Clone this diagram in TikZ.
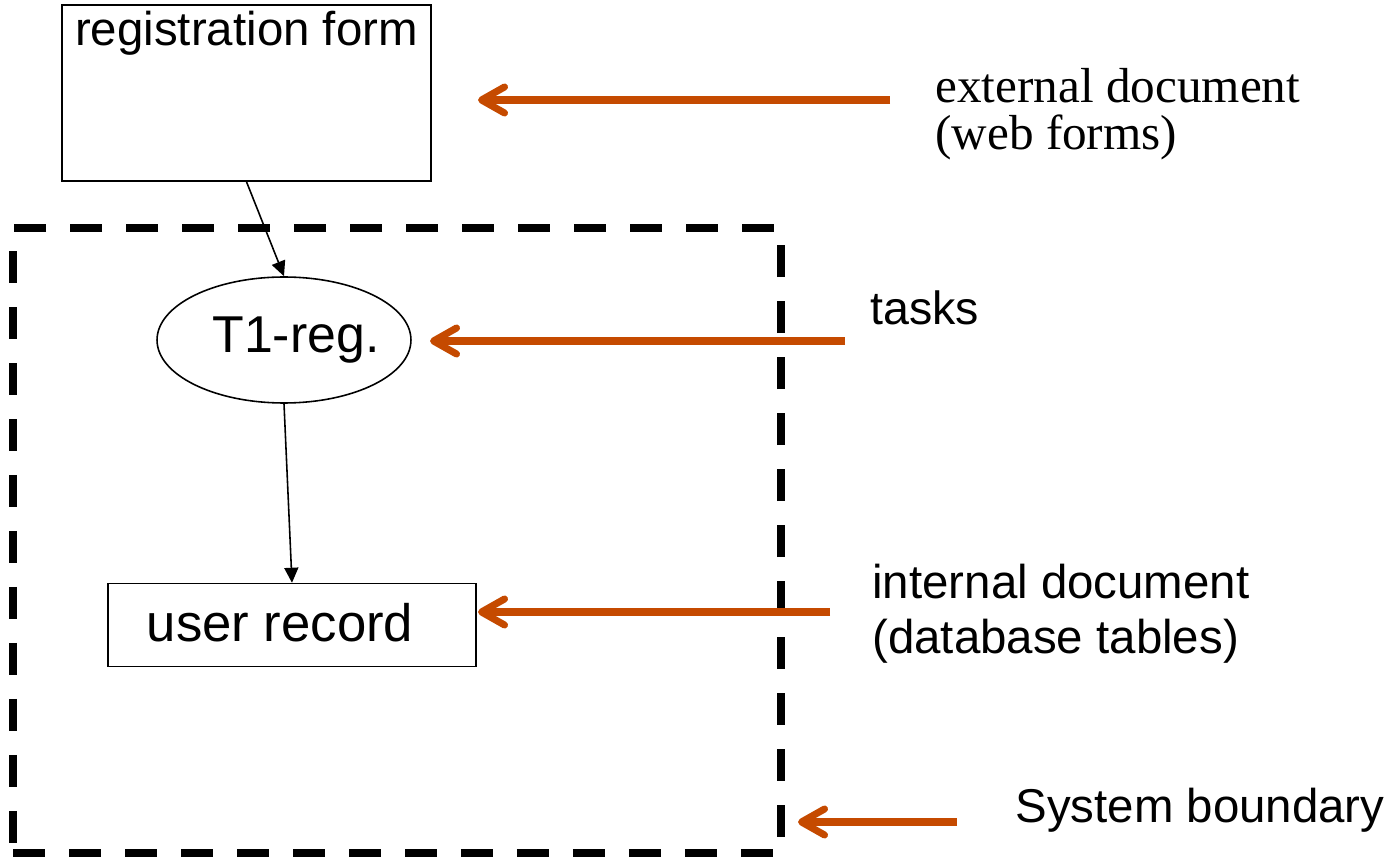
\documentclass[tikz,border=0pt]{standalone}
\usepackage{fontspec}
\setmainfont{Liberation Sans}
\newfontfamily\notefont{Liberation Serif}
\usepackage{tikz}
\usetikzlibrary{shapes.geometric,arrows.meta,positioning}
\definecolor{pointer}{RGB}{197,74,0}

\begin{document}
\begin{tikzpicture}[
    x=0.02cm, y=-0.02cm,
    doc/.style={rectangle, draw=black, line width=0.9pt, inner sep=0pt},
    taskshape/.style={ellipse, draw=black, line width=0.9pt, inner sep=0pt, minimum width=5.08cm, minimum height=2.52cm, font=\fontsize{29.5}{32}\selectfont},
    note/.style={anchor=base west, inner sep=0pt, align=left, font=\fontsize{27}{31}\selectfont},
    flow/.style={-{Triangle[length=0.3cm,width=0.28cm]}, line width=0.9pt},
    hint/.style={-{Straight Barb[length=0.46cm,width=0.52cm,round]}, line width=4pt, draw=pointer},
    boundary/.style={rectangle, draw=black, line width=4.5pt, dash pattern=on 0.64cm off 0.48cm, inner sep=0pt}
]
\useasboundingbox (0,0) rectangle (1389,857);

% System boundary
\node[boundary, minimum width=15.36cm, minimum height=12.5cm] (sysbound) at (397,540.5) {};

% Documents and task
\node[doc, minimum width=7.38cm, minimum height=3.52cm,
      label={[anchor=base, inner sep=0pt, yshift=-0.82cm, font=\fontsize{27}{31}\selectfont]north:registration form}] (regform) at (246.5,93) {};
\node[taskshape] (t1reg) at (284,340) {\hspace*{0.24cm}T1-reg.\hspace*{-0.24cm}};
\node[doc, minimum width=7.36cm, minimum height=1.66cm, font=\fontsize{30}{32}\selectfont,
      below=3.58cm of t1reg, xshift=0.16cm] (record) {\raisebox{0.1cm}{user record}\hspace*{0.48cm}};

\draw[flow] (regform.south) -- (t1reg.north);
\draw[flow] (t1reg.south) -- (record.north);

% Legend (base = last line)
\node[note, font=\notefont\fontsize{28}{27}\selectfont] (external) at (935,150) {external document\\(web forms)};
\node[note, font=\fontsize{26.5}{30}\selectfont] (tasks) at (870,325) {tasks};
\node[note] (internal) at (872,653) {internal document\\(database tables)};
\node[note] (sysnote) at (1015,822) {System boundary};

\coordinate (extfrom) at (890,100);
\coordinate (extto) at (478,100);
\coordinate (taskfrom) at (845,341);
\coordinate (taskto) at (430,341);
\coordinate (intfrom) at (830,612);
\coordinate (intto) at (478,612);
\coordinate (sysfrom) at (957,822);
\coordinate (systo) at (798,822);

\draw[hint] (extfrom) -- (extto);
\draw[hint] (taskfrom) -- (taskto);
\draw[hint] (intfrom) -- (intto);
\draw[hint] (sysfrom) -- (systo);

\end{tikzpicture}
\end{document}
